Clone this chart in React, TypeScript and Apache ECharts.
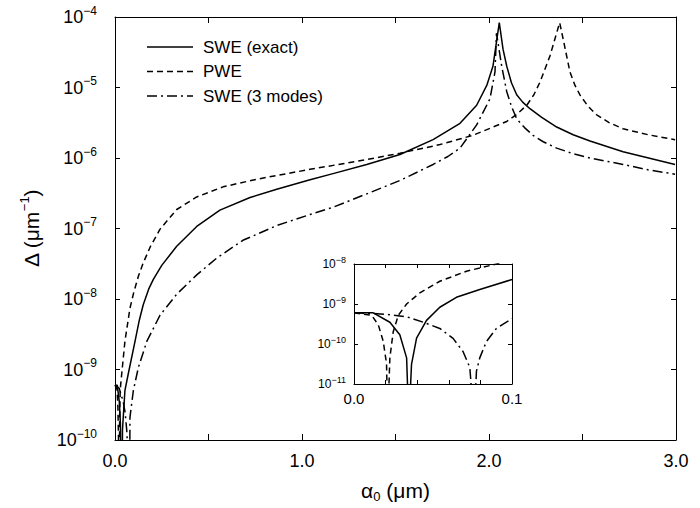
import React, { useEffect, useRef } from "react";
import * as echarts from "echarts";

const FONT = '"Liberation Sans", Arial, Helvetica, sans-serif';

// ---- Main plot data: [alpha0 (um), Delta (um^-1)] ----
const sweExact: [number, number][] = [
  [0, 6.0e-10], [0.012, 6.0e-10], [0.023, 3.5e-10], [0.029, 1.7e-10], [0.0347, 1e-12],
  [0.04, 1.4e-10], [0.053, 5.0e-10], [0.071, 8.7e-10], [0.107, 2.5e-9], [0.13, 5.0e-9],
  [0.151, 8.3e-9], [0.18, 1.38e-8], [0.205, 1.9e-8], [0.25, 3.0e-8], [0.33, 5.6e-8],
  [0.437, 1.07e-7], [0.561, 1.82e-7], [0.722, 2.75e-7], [0.865, 3.6e-7], [1.043, 4.9e-7],
  [1.166, 6.0e-7], [1.346, 8.1e-7], [1.524, 1.12e-6], [1.701, 1.82e-6], [1.845, 3.1e-6],
  [1.934, 5.6e-6], [1.988, 1.07e-5], [2.021, 2.0e-5], [2.055, 8.3e-5], [2.075, 3.5e-5],
  [2.095, 2.0e-5], [2.12, 1.17e-5], [2.148, 7.9e-6], [2.18, 6.2e-6], [2.219, 5.0e-6],
  [2.28, 3.8e-6], [2.362, 2.75e-6], [2.45, 2.14e-6], [2.54, 1.74e-6], [2.717, 1.23e-6],
  [2.995, 8.1e-7],
];
const pwe: [number, number][] = [
  [0, 6.0e-10], [0.011, 5.2e-10], [0.0154, 3.0e-10], [0.0185, 1.17e-10], [0.0213, 1e-12],
  [0.0248, 2.0e-10], [0.028, 5.2e-10], [0.036, 8.7e-10], [0.053, 2.5e-9], [0.08, 7.4e-9],
  [0.1, 1.23e-8], [0.125, 2.1e-8], [0.15, 3.2e-8], [0.19, 5.6e-8], [0.241, 9.8e-8],
  [0.33, 1.86e-7], [0.437, 2.8e-7], [0.578, 3.9e-7], [0.758, 5.0e-7], [1.043, 6.9e-7],
  [1.346, 9.5e-7], [1.524, 1.17e-6], [1.738, 1.55e-6], [1.914, 2.1e-6], [2.095, 3.3e-6],
  [2.15, 4.2e-6], [2.202, 5.6e-6], [2.24, 7.9e-6], [2.273, 1.2e-5], [2.326, 2.8e-5],
  [2.371, 7.2e-5], [2.378, 8.3e-5], [2.397, 4.8e-5], [2.433, 1.66e-5], [2.46, 1.07e-5],
  [2.487, 7.8e-6], [2.53, 5.4e-6], [2.576, 4.1e-6], [2.64, 3.2e-6], [2.717, 2.6e-6],
  [2.85, 2.14e-6], [2.995, 1.82e-6],
];
const swe3: [number, number][] = [
  [0, 6.0e-10], [0.0227, 5.4e-10], [0.0438, 3.5e-10], [0.0543, 2.45e-10], [0.0627, 1.38e-10],
  [0.069, 6.5e-11], [0.076, 1e-12], [0.08, 2.1e-10], [0.098, 5.0e-10], [0.125, 1.07e-9],
  [0.17, 2.5e-9], [0.241, 5.9e-9], [0.33, 1.17e-8], [0.437, 2.2e-8], [0.544, 3.8e-8],
  [0.684, 6.8e-8], [0.865, 1.1e-7], [1.043, 1.58e-7], [1.166, 2.0e-7], [1.346, 3.1e-7],
  [1.524, 4.8e-7], [1.701, 8.1e-7], [1.78, 1.05e-6], [1.845, 1.38e-6], [1.934, 2.95e-6],
  [2.005, 6.9e-6], [2.032, 1.66e-5], [2.04, 5.9e-5], [2.068, 2.0e-5], [2.095, 8.7e-6],
  [2.12, 5.4e-6], [2.148, 3.6e-6], [2.19, 2.7e-6], [2.235, 2.1e-6], [2.29, 1.7e-6],
  [2.362, 1.38e-6], [2.45, 1.15e-6], [2.54, 1.0e-6], [2.717, 8.1e-7], [2.85, 6.8e-7],
  [2.995, 5.9e-7],
];

// ---- Inset data (0 <= alpha0 <= 0.1) ----
const insetSweExact: [number, number][] = [
  [0, 6.0e-10], [0.0122, 6.0e-10], [0.0227, 3.5e-10], [0.029, 1.7e-10], [0.0333, 4.5e-11],
  [0.0347, 1e-12], [0.0364, 3.1e-11], [0.0396, 1.4e-10], [0.0459, 3.9e-10], [0.0543, 8.3e-10],
  [0.0648, 1.47e-9], [0.0796, 2.3e-9], [0.1, 4.1e-9],
];
const insetPwe: [number, number][] = [
  [0, 6.0e-10], [0.0112, 5.2e-10], [0.0154, 3.0e-10], [0.0185, 1.17e-10], [0.0206, 3.2e-11],
  [0.0213, 1e-12], [0.0227, 4.5e-11], [0.0248, 2.0e-10], [0.028, 5.2e-10], [0.0333, 1.0e-9],
  [0.0417, 1.9e-9], [0.0543, 3.7e-9], [0.0712, 6.6e-9], [0.0901, 1.0e-8], [0.1, 1.25e-8],
];
const insetSwe3: [number, number][] = [
  [0, 6.0e-10], [0.0122, 5.8e-10], [0.0227, 5.4e-10], [0.0333, 4.8e-10], [0.0438, 3.5e-10],
  [0.0543, 2.45e-10], [0.0627, 1.38e-10], [0.069, 6.5e-11], [0.0733, 2.6e-11], [0.076, 1e-12],
  [0.0775, 2.1e-11], [0.0796, 4.5e-11], [0.0838, 1.15e-10], [0.0901, 2.45e-10], [0.1, 4.3e-10],
];

const legendNames = ["SWE (exact)", "PWE", "SWE (3 modes)"];
const xTickLabels = ["0.0", "1.0", "2.0", "3.0"];
const insetXTickLabels = ["0.0", "0.1"];

const SOLID = "solid";
const DASHED = [6, 4];
const DASHDOT = [10, 4, 2, 4];
const styles: any[] = [SOLID, DASHED, DASHDOT];

const expLabel = (v: number) => {
  const e = Math.round(Math.log10(v));
  return "10{sup|" + (e < 0 ? "\u2212" + Math.abs(e) : String(e)) + "}";
};

function lineSeries(data: [number, number][], type: any, idx: number) {
  return {
    type: "line",
    data,
    xAxisIndex: idx,
    yAxisIndex: idx,
    symbol: "none",
    showSymbol: false,
    clip: true,
    silent: true,
    lineStyle: { color: "#000", width: 1.5, type },
  };
}

const frameAxis = (gridIndex: number, position: string) => ({
  gridIndex,
  position,
  axisLine: { show: true, onZero: false, lineStyle: { color: "#000", width: 1 } },
  splitLine: { show: false },
});

export default function App() {
  const ref = useRef<HTMLDivElement>(null);
  useEffect(() => {
    document.body.style.margin = "0";
    const chart = echarts.init(ref.current!, null, { renderer: "svg" });
    const legendY = [47, 71.5, 96];
    const legendGraphics: any[] = [];
    legendNames.forEach((name, i) => {
      legendGraphics.push({
        type: "line",
        shape: { x1: 147, y1: legendY[i], x2: 193, y2: legendY[i] },
        style: {
          stroke: "#000",
          lineWidth: 1.5,
          lineDash: i === 0 ? null : (styles[i] as number[]),
        },
      });
      legendGraphics.push({
        type: "text",
        x: 203,
        y: legendY[i],
        style: {
          text: name,
          font: `17px ${FONT}`,
          fill: "#000",
          verticalAlign: "middle",
          align: "left",
        },
      });
    });

    const option: any = {
      animation: false,
      backgroundColor: "#fff",
      textStyle: { fontFamily: FONT, color: "#000" },
      grid: [
        { left: 115, top: 17, right: 24, bottom: 61 },
        { left: 354, top: 264, width: 158, height: 120, show: true, backgroundColor: "#fff", borderWidth: 0 },
      ],
      xAxis: [
        {
          ...frameAxis(0, "bottom"),
          type: "value",
          min: 0,
          max: 3,
          interval: 0.5,
          axisTick: { show: true, inside: true, length: 6, lineStyle: { color: "#000" } },
          axisLabel: {
            show: true,
            fontSize: 18,
            color: "#000",
            margin: 12,
            fontFamily: FONT,
            formatter: (v: number) => (Math.abs(v - Math.round(v)) < 1e-9 ? xTickLabels[Math.round(v)] : ""),
          },
          name: "\u03b1{sub|0} (\u03bcm)",
          nameLocation: "middle",
          nameGap: 38,
          nameTextStyle: {
            fontSize: 21,
            color: "#000",
            fontFamily: FONT,
            rich: { sub: { fontSize: 13, padding: [12, 0, 0, 0], fontFamily: FONT, color: "#000" } },
          },
        },
        {
          ...frameAxis(0, "top"),
          type: "value",
          min: 0,
          max: 3,
          interval: 0.5,
          axisTick: { show: true, inside: true, length: 6, lineStyle: { color: "#000" } },
          axisLabel: { show: false },
        },
        {
          ...frameAxis(1, "bottom"),
          type: "value",
          min: 0,
          max: 0.1,
          interval: 0.02,
          axisTick: { show: true, inside: true, length: 4, lineStyle: { color: "#000" } },
          axisLabel: {
            show: true,
            fontSize: 15,
            color: "#000",
            margin: 7,
            fontFamily: FONT,
            formatter: (v: number) =>
              Math.abs(v) < 1e-9 ? insetXTickLabels[0] : Math.abs(v - 0.1) < 1e-9 ? insetXTickLabels[1] : "",
          },
        },
        {
          ...frameAxis(1, "top"),
          type: "value",
          min: 0,
          max: 0.1,
          interval: 0.02,
          axisTick: { show: true, inside: true, length: 4, lineStyle: { color: "#000" } },
          axisLabel: { show: false },
        },
      ],
      yAxis: [
        {
          ...frameAxis(0, "left"),
          type: "log",
          logBase: 10,
          min: 1e-10,
          max: 1e-4,
          axisTick: { show: true, inside: true, length: 5, lineStyle: { color: "#000" } },
          axisLabel: {
            show: true,
            fontSize: 18,
            color: "#000",
            margin: 18,
            fontFamily: FONT,
            formatter: expLabel,
            rich: { sup: { fontSize: 12, padding: [0, 0, 13, 0], fontFamily: FONT, color: "#000" } },
          },
          name: "\u0394 (\u03bcm{sup|\u22121})",
          nameLocation: "middle",
          nameRotate: 90,
          nameGap: 70,
          nameTextStyle: {
            fontSize: 21,
            color: "#000",
            fontFamily: FONT,
            rich: { sup: { fontSize: 13, padding: [0, 0, 14, 0], fontFamily: FONT, color: "#000" } },
          },
        },
        {
          ...frameAxis(0, "right"),
          type: "log",
          logBase: 10,
          min: 1e-10,
          max: 1e-4,
          axisTick: { show: true, inside: true, length: 5, lineStyle: { color: "#000" } },
          axisLabel: { show: false },
        },
        {
          ...frameAxis(1, "left"),
          type: "log",
          logBase: 10,
          min: 1e-11,
          max: 1e-8,
          axisTick: { show: true, inside: true, length: 4, lineStyle: { color: "#000" } },
          axisLabel: {
            show: true,
            fontSize: 12,
            color: "#000",
            margin: 8,
            fontFamily: FONT,
            formatter: expLabel,
            rich: { sup: { fontSize: 9, padding: [0, 0, 9, 0], fontFamily: FONT, color: "#000" } },
          },
        },
        {
          ...frameAxis(1, "right"),
          type: "log",
          logBase: 10,
          min: 1e-11,
          max: 1e-8,
          axisTick: { show: true, inside: true, length: 4, lineStyle: { color: "#000" } },
          axisLabel: { show: false },
        },
      ],
      series: [
        { name: legendNames[0], ...lineSeries(sweExact, styles[0], 0) },
        { name: legendNames[1], ...lineSeries(pwe, styles[1], 0) },
        { name: legendNames[2], ...lineSeries(swe3, styles[2], 0) },
        { name: legendNames[0] + " inset", ...lineSeries(insetSweExact, styles[0], 2) },
        { name: legendNames[1] + " inset", ...lineSeries(insetPwe, styles[1], 2) },
        { name: legendNames[2] + " inset", ...lineSeries(insetSwe3, styles[2], 2) },
      ],
      graphic: legendGraphics,
    };
    chart.setOption(option);
    return () => chart.dispose();
  }, []);
  return <div ref={ref} style={{ width: 700, height: 508 }} />;
}
